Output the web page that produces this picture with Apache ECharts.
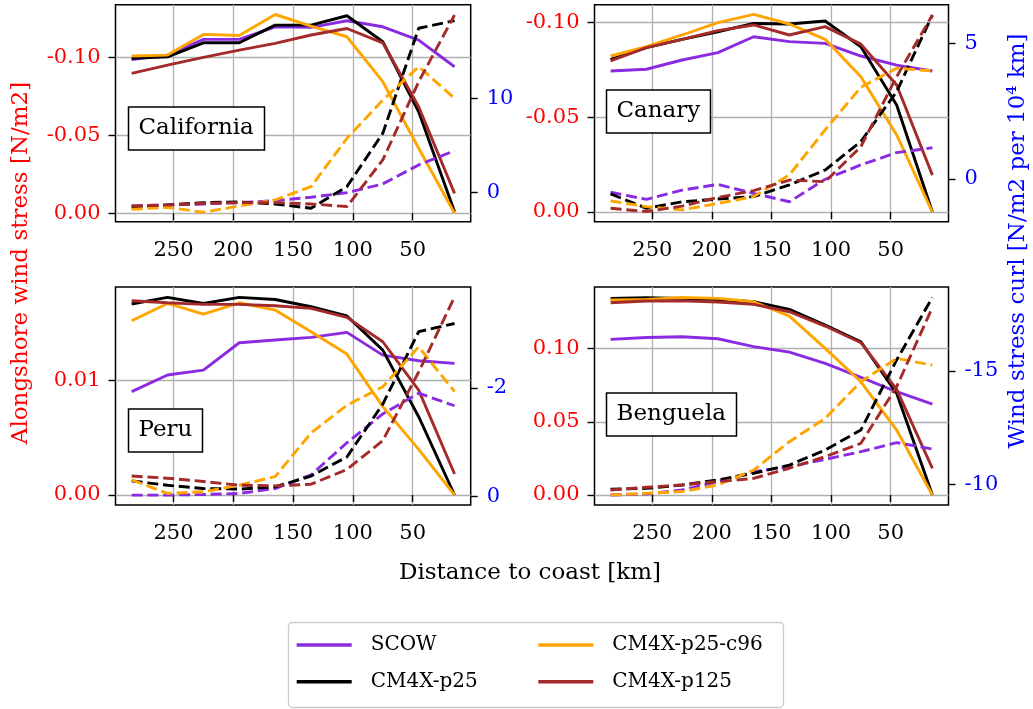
<!DOCTYPE html>
<html><head><meta charset="utf-8">
<script src="https://cdn.jsdelivr.net/npm/echarts@6/dist/echarts.min.js"></script>
<style>html,body{margin:0;padding:0;background:#fff}#c{width:1033px;height:709px}</style>
</head><body><div id="c"></div><script>
// ---------------- data ----------------
const distance = [285, 255, 225, 195, 165, 135, 105, 75, 45, 15];
const modelNames = ['SCOW', 'CM4X-p25', 'CM4X-p25-c96', 'CM4X-p125'];
const regionNames = ['California', 'Canary', 'Peru', 'Benguela'];
const xTicks = [250, 200, 150, 100, 50];

// alongshore wind stress [N/m2] rows: SCOW, CM4X-p25, CM4X-p25-c96, CM4X-p125
const californiaStress = [
  [-0.0989, -0.1017, -0.1118, -0.1118, -0.1199, -0.1195, -0.1238, -0.1199, -0.1113, -0.0942],
  [-0.0996, -0.1006, -0.1096, -0.1096, -0.1210, -0.1210, -0.1270, -0.1103, -0.0653, -0.0010],
  [-0.1011, -0.1017, -0.1150, -0.1143, -0.1278, -0.1203, -0.1135, -0.0846, -0.0418, 0.0000],
  [-0.0899, -0.0953, -0.1002, -0.1049, -0.1092, -0.1146, -0.1188, -0.1096, -0.0685, -0.0128]
];
const canaryStress = [
  [-0.0745, -0.0754, -0.0803, -0.0842, -0.0926, -0.0900, -0.0891, -0.0824, -0.0776, -0.0745],
  [-0.0806, -0.0868, -0.0912, -0.0952, -0.0996, -0.0993, -0.1009, -0.0873, -0.0565, 0.0000],
  [-0.0824, -0.0873, -0.0935, -0.1000, -0.1044, -0.0993, -0.0912, -0.0715, -0.0407, 0.0000],
  [-0.0798, -0.0868, -0.0912, -0.0958, -0.0988, -0.0935, -0.0979, -0.0887, -0.0671, -0.0195]
];
const peruStress = [
  [0.00904, 0.01050, 0.01093, 0.01332, 0.01356, 0.01379, 0.01423, 0.01224, 0.01175, 0.01152],
  [0.01671, 0.01729, 0.01676, 0.01729, 0.01711, 0.01647, 0.01566, 0.01268, 0.00685, 0.00000],
  [0.01525, 0.01676, 0.01583, 0.01682, 0.01618, 0.01429, 0.01233, 0.00773, 0.00399, 0.00000],
  [0.01700, 0.01682, 0.01668, 0.01668, 0.01656, 0.01633, 0.01554, 0.01341, 0.00918, 0.00184]
];
const benguelaStress = [
  [0.1064, 0.1077, 0.1082, 0.1068, 0.1014, 0.0977, 0.0900, 0.0804, 0.0706, 0.0622],
  [0.1344, 0.1349, 0.1344, 0.1337, 0.1321, 0.1269, 0.1162, 0.1048, 0.0695, 0.0000],
  [0.1333, 0.1337, 0.1351, 0.1344, 0.1321, 0.1223, 0.1002, 0.0774, 0.0444, 0.0000],
  [0.1314, 0.1326, 0.1328, 0.1319, 0.1303, 0.1253, 0.1155, 0.1041, 0.0722, 0.0182]
];

// wind stress curl [N/m2 per 10^4 km] rows: SCOW, CM4X-p25, CM4X-p25-c96, CM4X-p125
const californiaCurl = [
  [-1.45, -1.35, -1.24, -1.10, -0.89, -0.53, -0.04, 0.89, 2.91, 4.43],
  [-1.60, -1.35, -1.10, -1.03, -1.24, -1.70, 0.60, 6.28, 17.45, 18.26],
  [-1.81, -1.60, -2.13, -1.45, -0.82, 0.60, 5.74, 9.82, 13.37, 10.00],
  [-1.45, -1.35, -1.17, -1.10, -1.10, -1.24, -1.52, 3.44, 11.77, 18.87]
];
const canaryCurl = [
  [-0.49, -0.75, -0.41, -0.20, -0.53, -0.84, -0.01, 0.52, 0.97, 1.15],
  [-0.55, -1.08, -0.84, -0.74, -0.65, -0.22, 0.33, 1.38, 3.22, 6.04],
  [-0.81, -1.02, -1.14, -0.90, -0.65, 0.15, 1.81, 3.38, 4.08, 3.98],
  [-1.08, -1.20, -1.00, -0.68, -0.43, -0.04, -0.10, 1.19, 3.77, 6.04]
];
const peruCurl = [
  [-0.03, -0.03, -0.04, -0.06, -0.15, -0.40, -0.99, -1.52, -1.90, -1.67],
  [-0.29, -0.21, -0.15, -0.14, -0.18, -0.38, -0.73, -1.70, -3.03, -3.18],
  [-0.31, -0.06, -0.09, -0.21, -0.37, -1.17, -1.68, -2.02, -2.75, -1.93],
  [-0.38, -0.34, -0.28, -0.21, -0.20, -0.23, -0.50, -1.03, -2.29, -3.67]
];
const benguelaCurl = [
  [-9.53, -9.57, -9.75, -10.12, -10.56, -10.78, -11.10, -11.44, -11.84, -11.56],
  [-9.78, -9.82, -9.97, -10.19, -10.49, -10.85, -11.51, -12.40, -15.49, -18.25],
  [-9.53, -9.60, -9.68, -9.97, -10.63, -11.88, -12.91, -14.53, -15.56, -15.26],
  [-9.75, -9.87, -9.97, -10.12, -10.26, -10.71, -11.22, -11.81, -14.31, -17.81]
];

// tick labels
const californiaStressTicks = [-0.10, -0.05, 0.00];
const canaryStressTicks = [-0.10, -0.05, 0.00];
const peruStressTicks = [0.00, 0.01];
const benguelaStressTicks = [0.00, 0.05, 0.10];
const californiaCurlTicks = [0, 10];
const canaryCurlTicks = [0, 5];
const peruCurlTicks = [-2, 0];
const benguelaCurlTicks = [-15, -10];

// ---------------- styles / layout ----------------
const modelColors = ['#8a2be2', '#000000', '#ffa500', '#a52a2a'];
const FONT = '"DejaVu Serif", serif';
const LW = 2.9;
const stressData = [californiaStress, canaryStress, peruStress, benguelaStress];
const curlData = [californiaCurl, canaryCurl, peruCurl, benguelaCurl];
const stressTicks = [californiaStressTicks, canaryStressTicks, peruStressTicks, benguelaStressTicks];
const curlTicks = [californiaCurlTicks, canaryCurlTicks, peruCurlTicks, benguelaCurlTicks];
const layout = [
  {left: 115.5, top: 4.7, width: 355.2, height: 217, sMin: -0.1341, sMax: 0.0054, sInv: true, cMin: -3.13, cMax: 19.96, cInv: false, lx: 128, ly: 107},
  {left: 594.5, top: 4.7, width: 354, height: 217, sMin: -0.1095, sMax: 0.0051, sInv: true, cMin: -1.574, cMax: 6.42, cInv: false, lx: 606, ly: 90},
  {left: 115.5, top: 287, width: 355.2, height: 218, sMin: -0.000875, sMax: 0.0182, sInv: false, cMin: -3.85, cMax: 0.152, cInv: true, lx: 128, ly: 409},
  {left: 594.5, top: 287, width: 354, height: 218, sMin: -0.00684, sMax: 0.1422, sInv: false, cMin: -18.71, cMax: -9.087, cInv: true, lx: 606, ly: 393}
];

const grids = [], xAxes = [], yAxes = [], series = [], titles = [];
layout.forEach((L, i) => {
  grids.push({left: L.left, top: L.top, width: L.width, height: L.height, show: true,
    borderColor: '#000', borderWidth: 1.5, backgroundColor: 'rgba(0,0,0,0)', containLabel: false});
  xAxes.push({type: 'value', gridIndex: i, inverse: true, min: 1.5, max: 298.5,
    axisLine: {show: false},
    axisTick: {show: true, length: 7, customValues: xTicks, lineStyle: {color: '#000', width: 1.4}},
    axisLabel: {customValues: xTicks, margin: 18, color: '#000', fontSize: 21, fontFamily: FONT},
    splitLine: {show: true, lineStyle: {color: '#b0b0b0', width: 1.3}}});
  yAxes.push({type: 'value', gridIndex: i, position: 'left', inverse: L.sInv, min: L.sMin, max: L.sMax,
    axisLine: {show: false},
    axisTick: {show: true, length: 7, customValues: stressTicks[i], lineStyle: {color: '#000', width: 1.4}},
    axisLabel: {customValues: stressTicks[i], margin: 15, color: '#ff0000', fontSize: 21, fontFamily: FONT,
      formatter: v => (Math.abs(v) < 1e-12 ? 0 : v).toFixed(2)},
    splitLine: {show: true, lineStyle: {color: '#b0b0b0', width: 1.3}}});
  yAxes.push({type: 'value', gridIndex: i, position: 'right', inverse: L.cInv, min: L.cMin, max: L.cMax,
    axisLine: {show: false},
    axisTick: {show: true, length: 7, customValues: curlTicks[i], lineStyle: {color: '#000', width: 1.4}},
    axisLabel: {customValues: curlTicks[i], margin: 16, color: '#0000ff', fontSize: 21, fontFamily: FONT,
      formatter: v => String(Math.round(v))},
    splitLine: {show: false}});
  modelNames.forEach((m, k) => {
    series.push({type: 'line', name: m, xAxisIndex: i, yAxisIndex: 2 * i, symbol: 'none', animation: false,
      z: 3, data: distance.map((d, j) => [d, stressData[i][k][j]]),
      lineStyle: {color: modelColors[k], width: LW, type: 'solid'}, itemStyle: {color: modelColors[k]}});
  });
  modelNames.forEach((m, k) => {
    series.push({type: 'line', name: m, xAxisIndex: i, yAxisIndex: 2 * i + 1, symbol: 'none', animation: false,
      z: 4, data: distance.map((d, j) => [d, curlData[i][k][j]]),
      lineStyle: {color: modelColors[k], width: LW, type: [11, 4.8]}, itemStyle: {color: modelColors[k]}});
  });
  titles.push({text: regionNames[i], left: L.lx, top: L.ly, padding: [9, 10.5, 9, 10.5],
    borderColor: '#000', borderWidth: 1.5, backgroundColor: '#fff', z: 10,
    textStyle: {fontFamily: FONT, fontSize: 23, fontWeight: 'normal', color: '#000', lineHeight: 25}});
});

const legendBase = {orient: 'vertical', top: 635, padding: 0, itemWidth: 55, itemHeight: 3.4, itemGap: 16.7,
  icon: 'rect', z: 10, selectedMode: false,
  textStyle: {fontFamily: FONT, fontSize: 20, color: '#000', padding: [0, 0, 0, 14]}};

const option = {
  animation: false,
  backgroundColor: '#fff',
  title: titles,
  grid: grids,
  xAxis: xAxes,
  yAxis: yAxes,
  series: series,
  legend: [
    Object.assign({}, legendBase, {left: 296.7, data: [{name: 'SCOW', itemStyle: {color: modelColors[0]}}, {name: 'CM4X-p25', itemStyle: {color: modelColors[1]}}]}),
    Object.assign({}, legendBase, {left: 538.3, data: [{name: 'CM4X-p25-c96', itemStyle: {color: modelColors[2]}}, {name: 'CM4X-p125', itemStyle: {color: modelColors[3]}}]})
  ],
  graphic: [
    {type: 'rect', z: 1, shape: {x: 288.5, y: 622.5, width: 495, height: 85, r: 4},
      style: {fill: '#fff', stroke: '#cccccc', lineWidth: 1.3}},
    {type: 'text', x: 21, y: 263, rotation: Math.PI / 2,
      style: {text: 'Alongshore wind stress [N/m2]', fill: '#ff0000', font: '23px ' + FONT, align: 'center', verticalAlign: 'middle', textAlign: 'center', textVerticalAlign: 'middle'}},
    {type: 'text', x: 1018, y: 241, rotation: Math.PI / 2,
      style: {text: 'Wind stress curl [N/m2 per 10\u2074 km]', fill: '#0000ff', font: '23px ' + FONT, align: 'center', verticalAlign: 'middle', textAlign: 'center', textVerticalAlign: 'middle'}},
    {type: 'text', x: 530, y: 573,
      style: {text: 'Distance to coast [km]', fill: '#000', font: '23px ' + FONT, align: 'center', verticalAlign: 'middle', textAlign: 'center', textVerticalAlign: 'middle'}}
  ]
};
const chart = echarts.init(document.getElementById('c'), null, {renderer: 'canvas'});
chart.setOption(option);
</script></body></html>
